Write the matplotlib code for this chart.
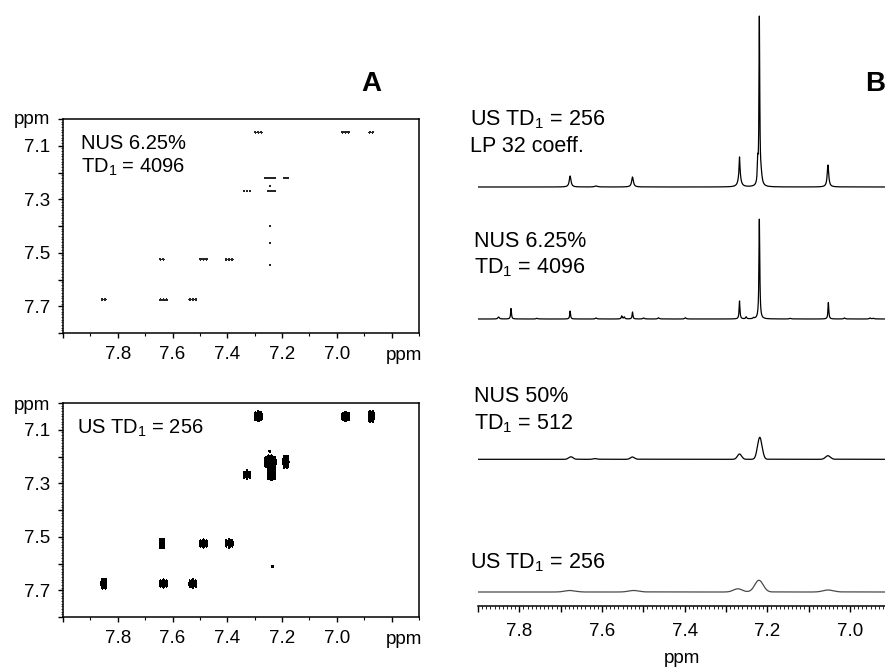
import numpy as np
import matplotlib
matplotlib.use("Agg")
import matplotlib.pyplot as plt
from matplotlib.ticker import MultipleLocator, FuncFormatter
from math import comb, sqrt

plt.rcParams['font.family'] = ['Liberation Sans', 'DejaVu Sans']
plt.rcParams['mathtext.fontset'] = 'custom'
plt.rcParams['mathtext.rm'] = 'Liberation Sans'
plt.rcParams['mathtext.it'] = 'Liberation Sans:italic'

W, H = 885, 667

# --- 2D cross peaks (F2, F1 in ppm)
cross_f2 = [7.287, 6.968, 6.874, 7.243, 7.186, 7.328, 7.239, 7.639, 7.487, 7.393, 7.851, 7.633, 7.526]
cross_f1 = [7.050, 7.050, 7.050, 7.220, 7.220, 7.268, 7.268, 7.525, 7.525, 7.525, 7.675, 7.675, 7.675]
cross_nj = [3, 3, 2, 4, 2, 3, 3, 2, 3, 3, 2, 3, 3]
amp_nus = [1.0, 1.0, 1.0, 1.6, 1.0, 1.0, 1.0, 1.0, 1.0, 1.0, 1.0, 1.0, 1.0]
amp_us = [1.4, 1.3, 1.6, 2.4, 2.0, 1.1, 1.7, 1.3, 1.1, 1.1, 1.4, 1.1, 1.1]

# t1 artefacts
art_nus_f2 = [7.245, 7.245, 7.245, 7.245]
art_nus_f1 = [7.250, 7.400, 7.465, 7.546]
art_us_f2 = [7.245, 7.235]
art_us_f1 = [7.180, 7.612]

# --- 1D traces (panel B): position, height, width
lp_pos = [7.677, 7.614, 7.526, 7.267, 7.267, 7.223, 7.219, 7.215, 7.053]
lp_hgt = [11, 1, 10, 17, 13, 20, 166, 10, 22]
lp_wid = [0.0025, 0.004, 0.0025, 0.0011, 0.0035, 0.0012, 0.0011, 0.003, 0.0022]

nus6_pos = [7.850, 7.820, 7.757, 7.677, 7.614, 7.552, 7.546, 7.526, 7.499, 7.463,
            7.398, 7.267, 7.251, 7.233, 7.219, 7.144, 7.052, 7.013, 6.951, 6.943]
nus6_hgt = [2, 10.5, 0.7, 8, 1, 3, 2, 7, 1, 1.2, 1.2, 18, 2, 1, 100, 0.7, 16.5, 1, 1, 0.7]
nus6_wid = [0.002, 0.0012, 0.002, 0.0012, 0.002, 0.0015, 0.0015, 0.0012, 0.002, 0.002,
            0.002, 0.0012, 0.0015, 0.0015, 0.0012, 0.002, 0.0012, 0.002, 0.002, 0.002]

nus50_pos = [7.675, 7.616, 7.526, 7.267, 7.218, 7.053]
nus50_hgt = [2.5, 0.7, 2.3, 5.3, 22, 3.6]
nus50_wid = [0.012, 0.01, 0.012, 0.012, 0.013, 0.014]

us_pos = [7.677, 7.523, 7.271, 7.220, 7.052]
us_hgt = [1.5, 1.5, 3.2, 11.7, 2]
us_wid = [0.03, 0.03, 0.025, 0.024, 0.03]


def fx(x):
    return x / W


def fy(y):
    return 1 - y / H


def plane(amps, sx, sy, art_f2, art_f1, art_amp, shaped=False):
    g2 = np.linspace(6.7, 8.0, 1301)
    g1 = np.linspace(7.0, 7.8, 1601)
    X, Y = np.meshgrid(g2, g1)
    Z = np.zeros_like(X)
    dj = 0.011
    for x0, y0, n, a in zip(cross_f2, cross_f1, cross_nj, amps):
        w = [sqrt(comb(n - 1, k)) for k in range(n)] if shaped else [1] * n
        for k in range(n):
            xc = x0 + (k - (n - 1) / 2) * dj
            Z += a * w[k] / max(w) * np.exp(-0.5 * ((X - xc) / sx) ** 2 - 0.5 * ((Y - y0) / sy) ** 2)
    for x0, y0 in zip(art_f2, art_f1):
        Z += art_amp * np.exp(-0.5 * ((X - x0) / sx) ** 2 - 0.5 * ((Y - y0) / (sx * 0.9)) ** 2)
    return X, Y, Z


def style_2d(ax):
    ax.set_xlim(8.0, 6.7)
    ax.set_ylim(7.8, 7.0)
    ax.xaxis.set_major_locator(MultipleLocator(0.2))
    ax.xaxis.set_minor_locator(MultipleLocator(0.1))
    ax.xaxis.set_major_formatter(FuncFormatter(lambda v, _: f"{v:.1f}" if 6.9 < v < 7.9 else ""))
    ax.yaxis.set_major_locator(MultipleLocator(0.1))
    ax.yaxis.set_minor_locator(MultipleLocator(0.01))
    ax.yaxis.set_major_formatter(FuncFormatter(lambda v, _: f"{v:.1f}" if round(v * 10) % 2 == 1 else ""))
    ax.tick_params(which='major', direction='out', length=3.5, width=1.0, labelsize=13.5, pad=6)
    ax.tick_params(axis='x', which='minor', direction='out', length=2.5, width=0.8)
    ax.tick_params(axis='y', which='minor', direction='out', length=1.2, width=0.5)
    for s in ax.spines.values():
        s.set_linewidth(1.1)


def lorentz(x, pos, hgt, wid):
    y = np.zeros_like(x)
    for p, h, w in zip(pos, hgt, wid):
        y += h / (1 + ((x - p) / w) ** 2)
    return y


def gauss(x, pos, hgt, wid):
    y = np.zeros_like(x)
    for p, h, w in zip(pos, hgt, wid):
        y += h * np.exp(-4 * np.log(2) * ((x - p) / w) ** 2)
    return y


fig = plt.figure(figsize=(W / 100, H / 100), dpi=100)

# ---------- panel A, NUS 6.25 %
axA1 = fig.add_axes([fx(63), fy(333), fx(356), 214 / H])
X, Y, Z = plane(amp_nus, 0.0028, 0.0021, art_nus_f2, art_nus_f1, 0.7)
axA1.contourf(X, Y, Z, levels=[0.5, Z.max() + 1], colors=['#262626'])
style_2d(axA1)
axA1.text(0.05, 0.93, "NUS 6.25%\nTD$_1$ = 4096", transform=axA1.transAxes,
          fontsize=14.5, va='top', ha='left', linespacing=1.25)

# ---------- panel A, US 256
axA2 = fig.add_axes([fx(63), fy(617), fx(356), 214 / H])
X, Y, Z = plane(amp_us, 0.0035, 0.0145, art_us_f2, art_us_f1, 0.9, shaped=True)
axA2.contourf(X, Y, Z, levels=[0.5, Z.max() + 1], colors=['black'])
style_2d(axA2)
axA2.text(0.04, 0.93, "US TD$_1$ = 256", transform=axA2.transAxes,
          fontsize=14.5, va='top', ha='left')

for ytop, ybot in [(120, 356), (406, 640)]:
    fig.text(fx(50), fy(ytop), "ppm", ha='right', va='center', fontsize=13.5)
    fig.text(fx(422), fy(ybot), "ppm", ha='right', va='center', fontsize=13.5)

fig.text(fx(371), fy(84), "A", fontsize=20, fontweight='bold', ha='center', va='center')
fig.text(fx(865), fy(84), "B", fontsize=20, fontweight='bold', ha='left', va='center')

# ---------- panel B, stacked 1D traces
axB = fig.add_axes([fx(478), fy(606), fx(407), 596 / H])
x = np.linspace(6.9, 7.9, 6000)
traces = [
    (lorentz(x, lp_pos, lp_hgt, lp_wid), 419, 'black'),
    (lorentz(x, nus6_pos, nus6_hgt, nus6_wid), 287, 'black'),
    (gauss(x, nus50_pos, nus50_hgt, nus50_wid), 146.7, 'black'),
    (gauss(x, us_pos, us_hgt, us_wid), 14, '#4a4a4a'),
]
for y, off, col in traces:
    axB.plot(x, y + off, color=col, lw=0.9)
axB.set_xlim(7.9, 6.915)
axB.set_ylim(0, 596)
for s in ['left', 'right', 'top']:
    axB.spines[s].set_visible(False)
axB.spines['bottom'].set_linewidth(1.1)
axB.set_yticks([])
axB.xaxis.set_major_locator(MultipleLocator(0.1))
axB.xaxis.set_minor_locator(MultipleLocator(0.01))
axB.xaxis.set_major_formatter(FuncFormatter(lambda v, _: f"{v:.1f}" if round(v * 10) % 2 == 0 else ""))
axB.tick_params(which='major', direction='out', length=4.5, width=1.0, labelsize=13.5, pad=8)
axB.tick_params(which='minor', direction='out', length=1.8, width=0.6)
axB.set_xlabel("ppm", fontsize=13.5, labelpad=7)

fig.text(fx(470), fy(120), "US TD$_1$ = 256", fontsize=15.5, va='center', ha='left')
fig.text(fx(470), fy(147), "LP 32 coeff.", fontsize=15.5, va='center', ha='left')
fig.text(fx(474), fy(241), "NUS 6.25%", fontsize=15.5, va='center', ha='left')
fig.text(fx(474), fy(268), "TD$_1$ = 4096", fontsize=15.5, va='center', ha='left')
fig.text(fx(474), fy(397), "NUS 50%", fontsize=15.5, va='center', ha='left')
fig.text(fx(474), fy(424), "TD$_1$ = 512", fontsize=15.5, va='center', ha='left')
fig.text(fx(470), fy(563), "US TD$_1$ = 256", fontsize=15.5, va='center', ha='left')

fig.savefig("out.png", dpi=100)
